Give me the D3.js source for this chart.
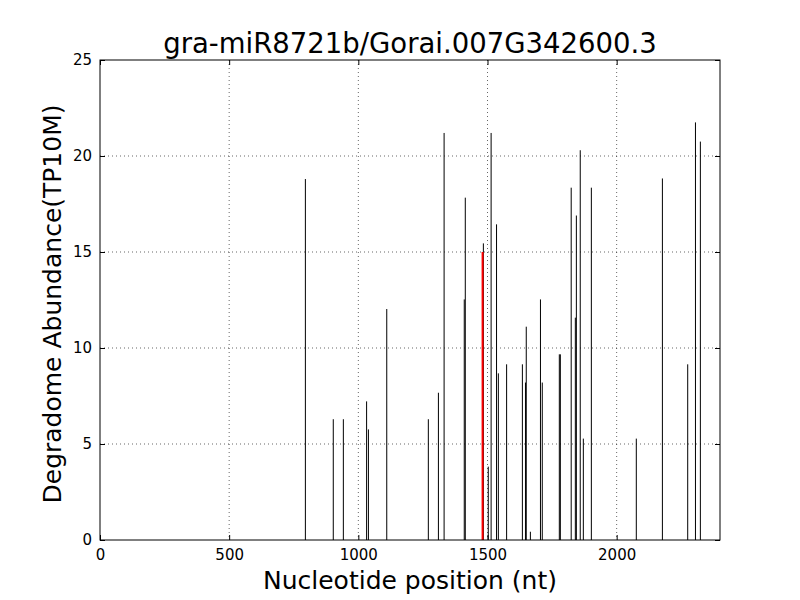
<!DOCTYPE html>
<html><head><meta charset="utf-8">
<script src="https://cdn.jsdelivr.net/npm/d3@7"></script>
<style>body{margin:0;background:#fff;} svg{display:block;font-family:"DejaVu Sans",sans-serif;}</style>
</head><body>
<svg id="c" width="800" height="600"></svg>
<script>
const title = "gra-miR8721b/Gorai.007G342600.3";
const xLabel = "Nucleotide position (nt)";
const yLabel = "Degradome Abundance(TP10M)";
const positions = [795, 903, 942, 1032, 1039, 1110, 1271, 1310, 1332, 1410, 1414, 1484, 1503, 1514, 1535, 1542, 1574, 1635, 1647, 1650, 1666, 1705, 1712, 1778, 1782, 1824, 1840, 1844, 1859, 1871, 1902, 2076, 2177, 2275, 2305, 2324];
const abundances = [18.8, 6.29, 6.29, 7.22, 5.76, 12.03, 6.29, 7.67, 21.2, 12.53, 17.83, 15.45, 3.82, 21.2, 16.44, 8.68, 9.15, 9.15, 8.2, 11.11, 0.43, 12.53, 8.2, 9.67, 9.67, 18.35, 11.58, 16.9, 20.3, 5.28, 18.35, 5.28, 18.83, 9.15, 21.75, 20.75];
const targetPos = [1481];
const targetVal = [15.0];
const xTicks = [0, 500, 1000, 1500, 2000];
const yTicks = [0, 5, 10, 15, 20, 25];

const svg = d3.select("#c");
const m = {l:100, r:720, t:60, b:540};
const x = d3.scaleLinear().domain([0, 2400]).range([m.l, m.r]);
const y = d3.scaleLinear().domain([0, 25]).range([m.b, m.t]);

// grid
const g = svg.append("g");
xTicks.forEach(t => { if (t > 0) g.append("line").attr("x1", x(t)).attr("x2", x(t)).attr("y1", m.t).attr("y2", m.b).attr("stroke", "#000").attr("stroke-width", 0.6).attr("stroke-dasharray", "1,3"); });
yTicks.forEach(t => { if (t > 0 && t < 25) g.append("line").attr("x1", m.l).attr("x2", m.r).attr("y1", y(t)).attr("y2", y(t)).attr("stroke", "#000").attr("stroke-width", 0.6).attr("stroke-dasharray", "1,3"); });

// lines
svg.append("g").selectAll("line").data(positions.map((p,i)=>({p, v:abundances[i]}))).join("line")
  .attr("x1", d => x(d.p)).attr("x2", d => x(d.p)).attr("y1", y(0)).attr("y2", d => y(d.v))
  .attr("stroke", "#000").attr("stroke-width", 1);
svg.append("g").selectAll("line").data(targetPos.map((p,i)=>({p, v:targetVal[i]}))).join("line")
  .attr("x1", d => x(d.p)).attr("x2", d => x(d.p)).attr("y1", y(0)).attr("y2", d => y(d.v))
  .attr("stroke", "#ff0000").attr("stroke-width", 2);

// axes
const xa = svg.append("g").attr("transform", `translate(0,${m.b})`).call(d3.axisBottom(x).tickValues(xTicks).tickSize(-5).tickPadding(9).tickFormat(d3.format("d")));
const xa2 = svg.append("g").attr("transform", `translate(0,${m.t})`).call(d3.axisTop(x).tickValues(xTicks).tickSize(-5).tickFormat(""));
const ya = svg.append("g").attr("transform", `translate(${m.l},0)`).call(d3.axisLeft(y).tickValues(yTicks).tickSize(-5).tickPadding(8).tickFormat(d3.format("d")));
const ya2 = svg.append("g").attr("transform", `translate(${m.r},0)`).call(d3.axisRight(y).tickValues(yTicks).tickSize(-5).tickFormat(""));
[xa, xa2, ya, ya2].forEach(a => { a.select(".domain").remove(); a.selectAll("text").attr("font-size", 15).attr("font-family", "DejaVu Sans").attr("fill", "#000"); a.selectAll("line").attr("stroke", "#000"); });

svg.append("rect").attr("x", m.l).attr("y", m.t).attr("width", m.r - m.l).attr("height", m.b - m.t).attr("fill", "none").attr("stroke", "#000").attr("stroke-width", 1);

svg.append("text").attr("x", 410).attr("y", 53).attr("text-anchor", "middle").attr("font-size", 27.5).text(title);
svg.append("text").attr("x", 410).attr("y", 589).attr("text-anchor", "middle").attr("font-size", 25).text(xLabel);
svg.append("text").attr("transform", "translate(61,304) rotate(-90)").attr("text-anchor", "middle").attr("font-size", 25).text(yLabel);
</script>
</body></html>
